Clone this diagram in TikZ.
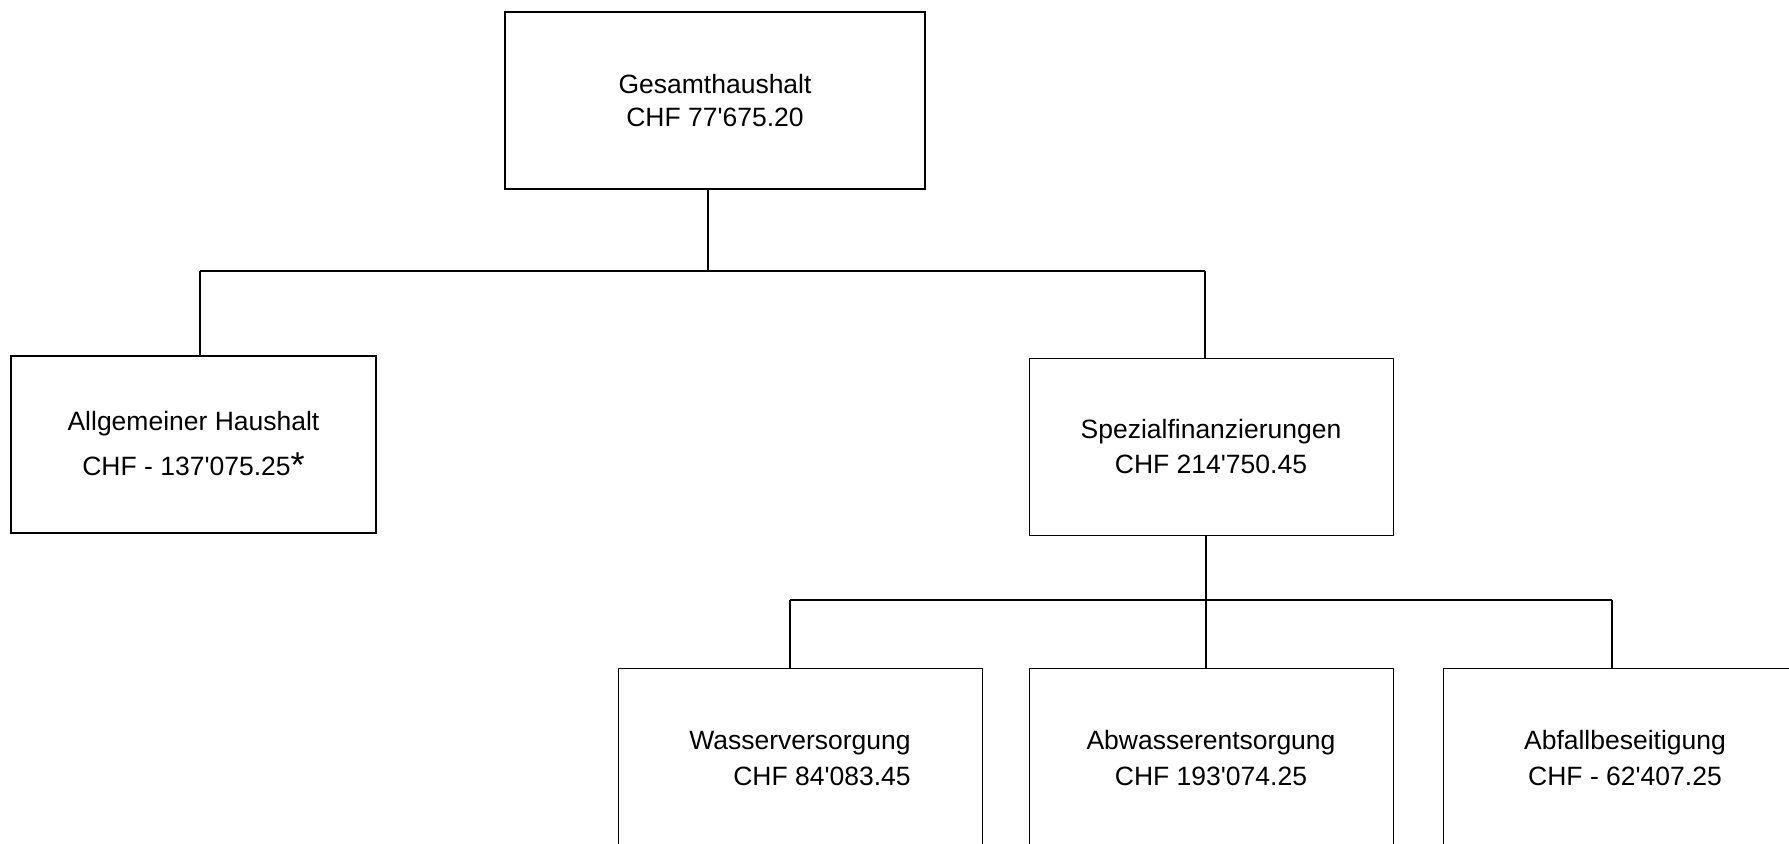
\documentclass[tikz,border=0pt]{standalone}
\usepackage{fontspec}
\newfontfamily\arialf{Liberation Sans}
\newcommand{\bigast}{\raisebox{-1pt}{\fontsize{18pt}{18pt}\selectfont *}}
\begin{document}
\begin{tikzpicture}[x=0.5pt,y=-0.5pt,
  box/.style={draw, rectangle, inner sep=0pt, minimum width=182pt, minimum height=88.5pt, align=center},
  thickbox/.style={box, line width=1pt},
  thinbox/.style={box, line width=0.5pt},
  link/.style={line width=0.55pt},
  bar/.style={line width=1.15pt},
  every node/.append style={font=\arialf\fontsize{13.25pt}{17.5pt}\selectfont}]
\useasboundingbox (0,0) rectangle (1789,843);

\node[thickbox, minimum width=210pt, font=\arialf\fontsize{13.25pt}{16.65pt}\selectfont] (top) at (715,100.5) {Gesamthaushalt\\CHF 77'675.20};
\node[thickbox, minimum width=182.5pt, font=\arialf\fontsize{13.25pt}{22.3pt}\selectfont] (alg) at (193.5,444.5) {Allgemeiner Haushalt\\CHF - 137'075.25\bigast};
\node[thinbox] (spez) at (1211,446.5) {Spezialfinanzierungen\\CHF 214'750.45};

\node[thinbox, minimum height=90pt, align=right, font=\arialf\fontsize{13.25pt}{18pt}\selectfont] (wass) at (800,758) {Wasserversorgung\\CHF 84'083.45};
\node[thinbox, minimum height=90pt, font=\arialf\fontsize{13.25pt}{18pt}\selectfont] (abw) at (1211,758) {Abwasserentsorgung\\CHF 193'074.25};
\node[thinbox, minimum height=90pt, font=\arialf\fontsize{13.25pt}{18pt}\selectfont] (abf) at (1625,758) {Abfallbeseitigung\\CHF - 62'407.25};

\coordinate (j0) at (708,271);
\coordinate (jl) at (200,271);
\coordinate (jr) at (1205,271);
\draw[link] (j0 |- top.south) -- (j0);
\draw[bar] (jl) -- (jr);
\draw[link] (jl) -- (jl |- alg.north);
\draw[link] (jr) -- (jr |- spez.north);

\coordinate (k0) at (1206,600);
\coordinate (kl) at (790,600);
\coordinate (kr) at (1612,600);
\draw[link] (k0 |- spez.south) -- (k0);
\draw[link] (kl) -- (kr);
\draw[link] (kl) -- (kl |- wass.north);
\draw[link] (k0) -- (k0 |- abw.north);
\draw[link] (kr) -- (kr |- abf.north);
\end{tikzpicture}
\end{document}
